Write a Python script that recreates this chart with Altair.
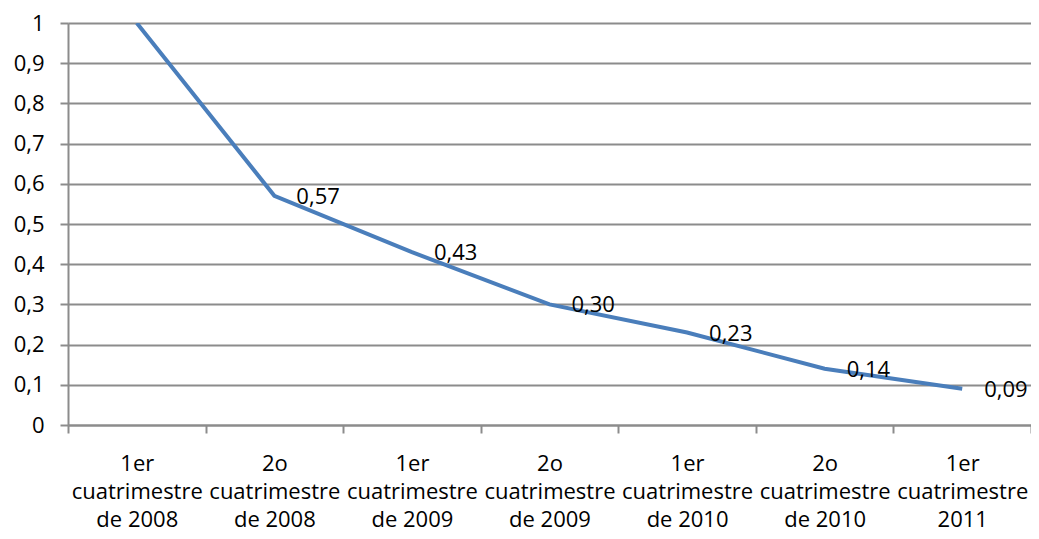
import altair as alt
import pandas as pd

categories = [
    "1er|cuatrimestre|de 2008",
    "2o|cuatrimestre|de 2008",
    "1er|cuatrimestre|de 2009",
    "2o|cuatrimestre|de 2009",
    "1er|cuatrimestre|de 2010",
    "2o|cuatrimestre|de 2010",
    "1er|cuatrimestre|2011",
]
values = [1.0, 0.57, 0.43, 0.30, 0.23, 0.14, 0.09]
labels = ["", "0,57", "0,43", "0,30", "0,23", "0,14", "0,09"]

df = pd.DataFrame({"cat": categories, "val": values, "lab": labels})

FONT = "Open Sans"
FS = 22
GRID = "#8c8c8c"

x_enc = alt.X(
    "cat:N",
    sort=None,
    scale=alt.Scale(paddingInner=0, paddingOuter=0),
    axis=alt.Axis(
        title=None,
        labelAngle=0,
        labelExpr="split(datum.label, '|')",
        labelFont=FONT,
        labelFontSize=FS,
        labelColor="#000000",
        labelLineHeight=28,
        labelPadding=20,
        labelBaseline="top",
        labelLimit=300,
        tickBand="extent",
        tickSize=8,
        tickColor=GRID,
        tickWidth=2,
        domainColor=GRID,
        domainWidth=2,
        grid=False,
    ),
)

y_enc = alt.Y(
    "val:Q",
    scale=alt.Scale(domain=[0, 1], nice=False),
    axis=alt.Axis(
        title=None,
        values=[0, 0.1, 0.2, 0.3, 0.4, 0.5, 0.6, 0.7, 0.8, 0.9, 1.0],
        labelExpr="replace(toString(datum.value), '.', ',')",
        labelFont=FONT,
        labelFontSize=FS,
        labelColor="#000000",
        labelPadding=16,
        tickSize=8,
        tickColor=GRID,
        tickWidth=2,
        domainColor=GRID,
        domainWidth=2,
        gridColor=GRID,
        gridWidth=2,
        gridOpacity=1,
    ),
)

line = alt.Chart(df).mark_line(color="#4A7EBB", strokeWidth=4, clip=True).encode(x=x_enc, y=y_enc)

text = alt.Chart(df).mark_text(
    align="left", baseline="middle", dx=22, dy=1, font=FONT, fontSize=FS, color="#000000"
).encode(x=alt.X("cat:N", sort=None), y="val:Q", text="lab:N")

chart = (
    alt.layer(line, text)
    .properties(
        width=963,
        height=402,
        autosize=alt.AutoSizeParams(type="none"),
        padding={"left": 60, "top": 15, "right": 0, "bottom": 106},
    )
    .configure_view(stroke=None)
    .configure(background="#ffffff")
)

chart.save("out.html", embed_options={"renderer": "svg", "actions": False})
